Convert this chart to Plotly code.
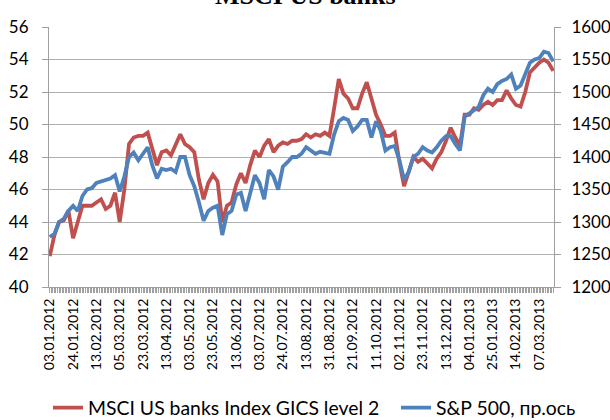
import numpy as np
import plotly.graph_objects as go

# ————— data (every 3rd trading day) —————
date_labels = [
    "03.01.2012", "24.01.2012", "13.02.2012", "05.03.2012", "23.03.2012",
    "13.04.2012", "03.05.2012", "23.05.2012", "13.06.2012", "03.07.2012",
    "24.07.2012", "13.08.2012", "31.08.2012", "21.09.2012", "11.10.2012",
    "02.11.2012", "23.11.2012", "13.12.2012", "04.01.2013", "25.01.2013",
    "14.02.2013", "07.03.2013",
]

# MSCI US banks Index GICS level 2 (left axis)
banks = [
    41.9, 43.2, 44.0, 44.1, 44.7, 43.0, 44.0, 45.0, 45.0, 45.0,
    45.2, 45.4, 44.8, 45.0, 45.8, 44.0, 46.0, 48.8, 49.2, 49.3,
    49.3, 49.5, 48.5, 47.5, 48.3, 48.4, 48.1, 48.7, 49.4, 48.8,
    48.6, 48.3, 46.6, 45.4, 46.4, 46.9, 46.5, 44.0, 45.0, 45.2,
    46.3, 47.0, 46.4, 47.5, 48.4, 48.0, 48.7, 49.1, 48.3, 48.7,
    48.9, 48.8, 49.0, 49.0, 49.1, 49.4, 49.2, 49.4, 49.3, 49.5,
    49.3, 51.0, 52.8, 51.9, 51.6, 51.0, 51.0, 51.9, 52.6, 51.6,
    50.6, 50.0, 49.3, 49.3, 49.5, 47.7, 46.2, 47.1, 48.0, 47.7,
    47.9, 47.6, 47.3, 47.9, 48.3, 49.0, 49.8, 49.2, 48.7, 50.6,
    50.6, 51.0, 50.9, 51.2, 51.4, 51.2, 51.5, 51.5, 52.1, 51.6,
    51.2, 51.1, 52.0, 53.2, 53.5, 53.8, 54.0, 53.8, 53.3,
]

# S&P 500 (right axis)
spx = [
    1277, 1282, 1300, 1305, 1317, 1325, 1317, 1340, 1350, 1352,
    1360, 1362, 1365, 1367, 1372, 1347, 1370, 1400, 1407, 1395,
    1405, 1415, 1387, 1367, 1382, 1380, 1382, 1377, 1400, 1400,
    1372, 1355, 1330, 1302, 1317, 1322, 1325, 1280, 1312, 1317,
    1342, 1345, 1317, 1347, 1372, 1360, 1335, 1380, 1370, 1350,
    1385, 1392, 1400, 1400, 1405, 1415, 1410, 1405, 1408, 1407,
    1405, 1435, 1455, 1460, 1457, 1440, 1447, 1457, 1457, 1430,
    1455, 1440, 1410, 1415, 1417, 1395, 1365, 1377, 1400, 1405,
    1415, 1410, 1407, 1415, 1425, 1432, 1432, 1420, 1410, 1462,
    1467, 1472, 1477, 1495, 1505, 1500, 1512, 1517, 1520, 1527,
    1505, 1510, 1527, 1545, 1550, 1552, 1562, 1560, 1547,
]

STEP = 3        # trading days between samples
LABEL_EVERY = 15
# ——————————————————————————————————————————————————————————————

day_idx = np.arange(len(banks)) * STEP
n_days = day_idx[-1] + 1

RED, BLUE = "#C0504D", "#4F81BD"
GRID, AXIS = "#b0b0b0", "#a0a0a0"
FONT = "Lato"
W, H = 610, 420

fig = go.Figure()
fig.add_trace(go.Scatter(
    x=day_idx, y=banks, name="MSCI US banks Index GICS level 2",
    mode="lines", line=dict(color=RED, width=3.8), legend="legend",
))
fig.add_trace(go.Scatter(
    x=day_idx, y=spx, name="S&P 500, пр.ось", yaxis="y2",
    mode="lines", line=dict(color=BLUE, width=3.8), legend="legend2",
))

leg = dict(orientation="h", xref="container", yref="container",
           xanchor="left", y=1 - 408 / H, yanchor="middle",
           font=dict(size=19.4), bgcolor="rgba(0,0,0,0)")

fig.update_layout(
    width=W, height=H,
    margin=dict(l=49, r=56, t=27, b=133, autoexpand=False),
    paper_bgcolor="white", plot_bgcolor="white",
    font=dict(family=FONT, size=16, color="#000000"),
    showlegend=True,
    legend=dict(leg, x=48 / W),
    legend2=dict(leg, x=396 / W),
    xaxis=dict(
        range=[-0.5, n_days - 0.5],
        tickmode="array",
        tickvals=np.arange(len(date_labels)) * LABEL_EVERY,
        ticktext=date_labels,
        tickangle=-90, tickfont=dict(size=14),
        showgrid=False, zeroline=False,
        showline=True, linecolor=AXIS, linewidth=1,
        ticks="outside", ticklen=5, tickcolor=AXIS,
        minor=dict(ticks="outside", dtick=1, tick0=0, ticklen=5,
                   tickcolor=AXIS, showgrid=False),
    ),
    yaxis=dict(
        range=[40, 56], dtick=2, tickfont=dict(size=17),
        showgrid=True, gridcolor=GRID, gridwidth=1, zeroline=False,
        showline=True, linecolor=AXIS, linewidth=1,
        ticks="outside", ticklen=6, tickcolor=AXIS, ticklabelstandoff=10,
    ),
    yaxis2=dict(
        range=[1200, 1600], dtick=50, tickfont=dict(size=17),
        overlaying="y", side="right", showgrid=False, zeroline=False,
        showline=True, linecolor=AXIS, linewidth=1,
        ticks="outside", ticklen=6, tickcolor=AXIS, ticklabelstandoff=7,
    ),
)

# title sits mostly above the top edge, as in the reference
fig.add_annotation(
    text="<b>MSCI US banks</b>", xref="paper", yref="paper",
    x=0.508, y=1.121, xanchor="center", yanchor="middle", showarrow=False,
    font=dict(family="Liberation Serif", size=26, color="#000000"),
)

# drop the browser's default 8px body margin so the figure starts at (0, 0)
fig.write_html("out.html", config={"displayModeBar": False},
               post_script="document.body.style.margin='0px';")
